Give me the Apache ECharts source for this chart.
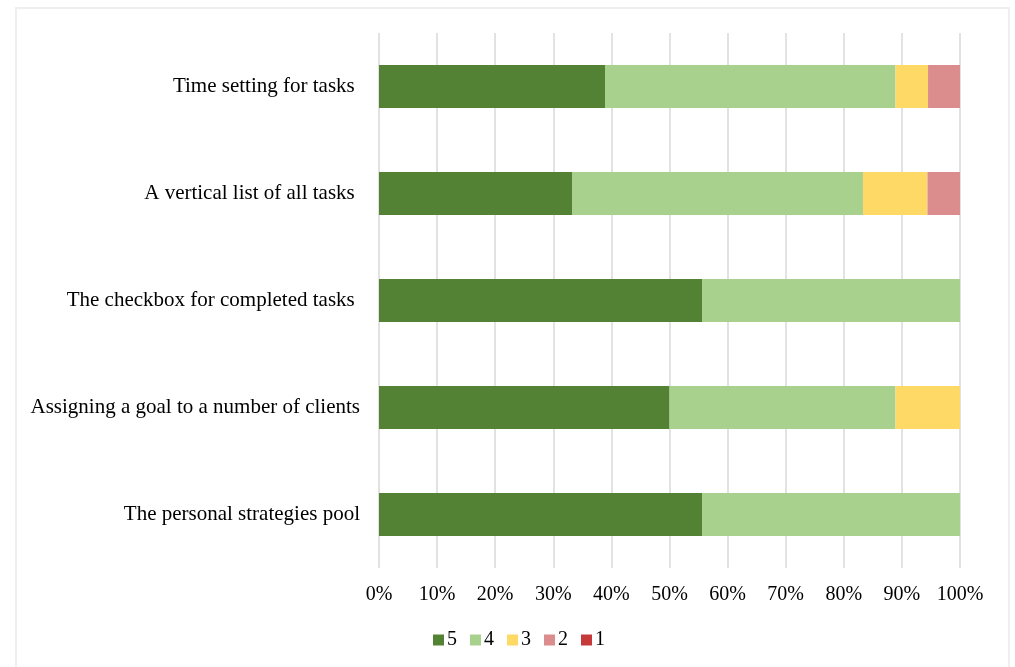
<!DOCTYPE html>
<html>
<head>
<meta charset="utf-8">
<script src="https://cdn.jsdelivr.net/npm/echarts@6/dist/echarts.min.js"></script>
<style>
  html, body { margin: 0; padding: 0; background: #fff; }
  #frame { position: absolute; left: 15px; top: 7px; width: 995px; height: 680px; border: 2px solid #efefef; box-sizing: border-box; }
  #chart { position: absolute; left: 0; top: 0; width: 1015px; height: 667px; }
</style>
</head>
<body>
<div id="frame"></div>
<div id="chart"></div>
<script>
// categories top to bottom (some labels carry a trailing space, as in the source)
var features = [
  'Time setting for tasks ',
  'A vertical list of all tasks ',
  'The checkbox for completed tasks ',
  'Assigning a goal to a number of clients',
  'The personal strategies pool'
];
var ratings = ['5', '4', '3', '2', '1'];
var colors = ['#548235', '#A9D18E', '#FFD966', '#DB8D8D', '#C5393B'];

// percent of respondents per rating
var r5 = [38.9, 33.3, 55.6, 50.0, 55.6];
var r4 = [50.0, 50.0, 44.4, 38.9, 44.4];
var r3 = [5.6, 11.1, 0, 11.1, 0];
var r2 = [5.5, 5.6, 0, 0, 0];
var r1 = [0, 0, 0, 0, 0];
var values = [r5, r4, r3, r2, r1];

var chart = echarts.init(document.getElementById('chart'));
var series = [];
for (var i = 0; i < ratings.length; i++) {
  series.push({
    name: ratings[i],
    type: 'bar',
    stack: 'total',
    barWidth: 43,
    itemStyle: { color: colors[i] },
    data: values[i]
  });
}

chart.setOption({
  animation: false,
  textStyle: { fontFamily: 'Liberation Serif' },
  grid: { left: 379, right: 55, top: 33, bottom: 99 },
  legend: {
    data: ratings,
    bottom: 12,
    left: 428,
    itemWidth: 11,
    itemHeight: 11,
    itemGap: 13,
    icon: 'rect',
    textStyle: { fontFamily: 'Liberation Serif', fontSize: 20, color: '#000', padding: [0, 0, 0, -2] }
  },
  xAxis: {
    type: 'value',
    min: 0,
    max: 100,
    interval: 10,
    axisLine: { show: false },
    axisTick: { show: false },
    axisLabel: { formatter: '{value}%', fontSize: 20, color: '#000', margin: 17, fontFamily: 'Liberation Serif' },
    splitLine: { show: true, lineStyle: { color: '#d9d9d9', width: 1.5 } }
  },
  yAxis: {
    type: 'category',
    inverse: true,
    data: features,
    axisLine: { show: false },
    axisTick: { show: false },
    axisLabel: { fontSize: 21, color: '#000', margin: 19, fontFamily: 'Liberation Serif' }
  },
  series: series
});
</script>
</body>
</html>
